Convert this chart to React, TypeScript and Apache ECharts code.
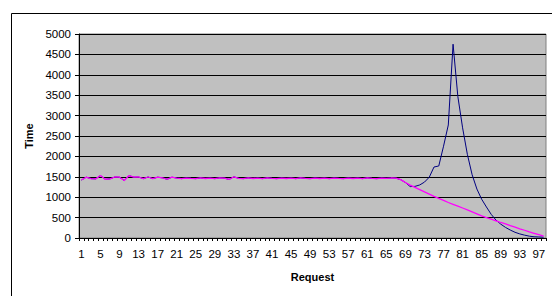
import React, { useEffect, useRef } from "react";
import * as echarts from "echarts";

const categories: string[] = Array.from({ length: 98 }, (_, i) => String(i + 1));

const pinkSeries: number[] = [
  1420, 1490, 1455, 1450, 1530, 1440, 1450, 1495, 1490, 1410,
  1530, 1490, 1495, 1455, 1495, 1455, 1490, 1475, 1440, 1490,
  1470, 1455, 1470, 1462, 1455, 1472, 1458, 1468, 1455, 1472,
  1468, 1435, 1500, 1462, 1455, 1472, 1458, 1468, 1455, 1472,
  1462, 1455, 1470, 1458, 1468, 1455, 1472, 1460, 1455, 1470,
  1458, 1468, 1455, 1470, 1460, 1455, 1470, 1458, 1468, 1455,
  1472, 1460, 1455, 1470, 1462, 1470, 1468, 1430, 1360, 1295,
  1240, 1185, 1130, 1075, 1020, 970, 920, 870, 825, 780,
  735, 690, 640, 590, 540, 500, 460, 420, 380, 345,
  305, 265, 225, 190, 150, 115, 80, 45,
];

const blueSeries: number[] = [
  1420, 1490, 1455, 1450, 1530, 1440, 1450, 1495, 1490, 1410,
  1530, 1490, 1495, 1455, 1495, 1455, 1490, 1475, 1440, 1490,
  1470, 1455, 1470, 1462, 1455, 1472, 1458, 1468, 1455, 1472,
  1468, 1435, 1500, 1462, 1455, 1472, 1458, 1468, 1455, 1472,
  1462, 1455, 1470, 1458, 1468, 1455, 1472, 1460, 1455, 1470,
  1458, 1468, 1455, 1470, 1460, 1455, 1470, 1458, 1468, 1455,
  1472, 1460, 1455, 1470, 1462, 1470, 1468, 1430, 1360, 1260,
  1265, 1300, 1370, 1490, 1740, 1765, 2250, 2770, 4750, 3470,
  2700, 2050, 1550, 1200, 950, 760, 580, 440, 340, 260,
  195, 140, 100, 70, 45, 30, 25, 20,
];

const yMin = 0;
const yMax = 5000;
const yStep = 500;

export default function App() {
  const ref = useRef<HTMLDivElement>(null);
  useEffect(() => {
    if (!ref.current) return;
    const chart = echarts.init(ref.current, undefined, { renderer: "svg" });
    const font = "'Liberation Sans', Arial, sans-serif";
    chart.setOption({
      animation: false,
      backgroundColor: "#ffffff",
      grid: {
        left: 79,
        top: 34,
        right: 6,
        bottom: 58,
        show: true,
        backgroundColor: "#C0C0C0",
        borderColor: "#808080",
        borderWidth: 1,
      },
      graphic: [
        {
          type: "rect",
          shape: { x: 11.5, y: 13.5, width: 700, height: 500 },
          style: { fill: "none", stroke: "#000000", lineWidth: 1 },
          silent: true,
          z: 100,
        },
      ],
      xAxis: {
        type: "category",
        data: categories,
        boundaryGap: true,
        name: "Request",
        nameLocation: "middle",
        nameGap: 33,
        nameTextStyle: { fontFamily: font, fontSize: 11, fontWeight: "bold", color: "#000" },
        axisLine: { show: true, lineStyle: { color: "#000", width: 1 } },
        axisTick: { show: true, interval: 0, length: 3, lineStyle: { color: "#000" } },
        axisLabel: {
          interval: 3,
          fontFamily: font,
          fontSize: 11.5,
          color: "#000",
          margin: 10,
        },
        splitLine: { show: false },
      },
      yAxis: {
        type: "value",
        min: yMin,
        max: yMax,
        interval: yStep,
        name: "Time",
        nameLocation: "middle",
        nameRotate: 90,
        nameGap: 41,
        nameTextStyle: { fontFamily: font, fontSize: 11, fontWeight: "bold", color: "#000" },
        axisLine: { show: true, lineStyle: { color: "#000", width: 1 } },
        axisTick: { show: true, length: 4, lineStyle: { color: "#000" } },
        axisLabel: {
          fontFamily: font,
          fontSize: 11.5,
          color: "#000",
          margin: 8,
          formatter: (v: number) => String(v),
        },
        splitLine: { show: true, lineStyle: { color: "#000", width: 1 } },
      },
      series: [
        {
          type: "line",
          data: blueSeries,
          symbol: "none",
          lineStyle: { color: "#000080", width: 1 },
          z: 2,
        },
        {
          type: "line",
          data: pinkSeries,
          symbol: "none",
          lineStyle: { color: "#FF00FF", width: 1.3 },
          z: 3,
        },
      ],
    });
    return () => chart.dispose();
  }, []);
  return (
    <div
      ref={ref}
      style={{ position: "fixed", left: 0, top: 0, width: 552, height: 296 }}
    />
  );
}
